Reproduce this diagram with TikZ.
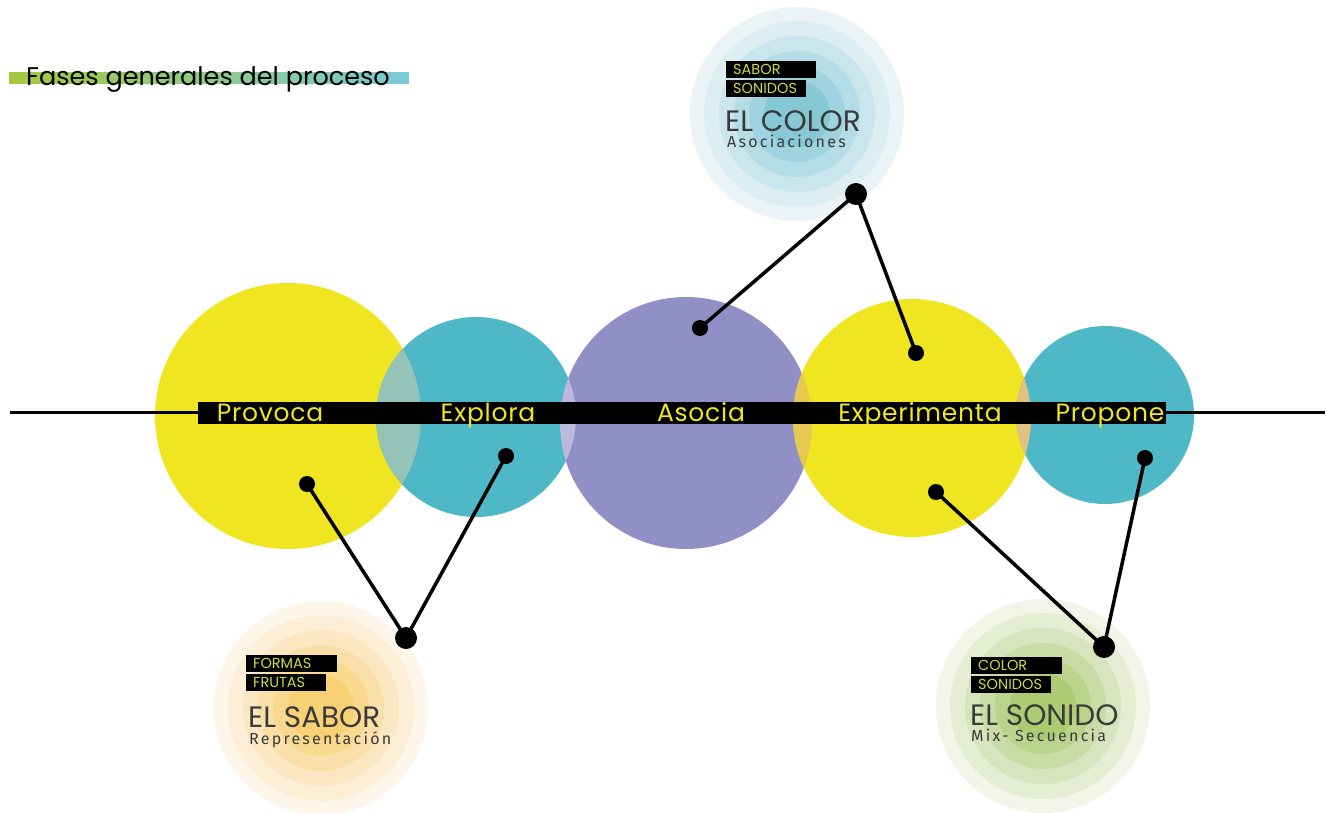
\documentclass[tikz,border=0pt]{standalone}
\usepackage{fontspec}
\setmainfont{Poppins}
\newfontfamily\phasefont[LetterSpace=3]{Poppins}
\newfontfamily\handfont[LetterSpace=14]{Fira Sans}
\definecolor{cyel}{HTML}{EFE521}
\definecolor{cteal}{HTML}{4FB8C7}
\definecolor{cpurp}{HTML}{9190C6}
\definecolor{ovA}{HTML}{95C3B7}
\definecolor{ovB}{HTML}{B8B9DB}
\definecolor{ovC}{HTML}{E6C950}
\definecolor{ovD}{HTML}{E1C283}
\definecolor{tagtext}{HTML}{CDD94A}
\definecolor{darktext}{HTML}{3A3A3C}
\definecolor{barA}{HTML}{A5C93B}
\definecolor{barB}{HTML}{8CCB9E}
\definecolor{barC}{HTML}{78CAD8}
% ring palettes, outer to inner
\definecolor{bl1}{HTML}{EAF4F7}\definecolor{bl2}{HTML}{DCEEF2}\definecolor{bl3}{HTML}{C9E6ED}
\definecolor{bl4}{HTML}{B5DDE6}\definecolor{bl5}{HTML}{9FD3DF}\definecolor{bl6}{HTML}{86C9D5}
\definecolor{or1}{HTML}{FDF6E9}\definecolor{or2}{HTML}{FCEFD6}\definecolor{or3}{HTML}{FBE8C2}
\definecolor{or4}{HTML}{FAE0A8}\definecolor{or5}{HTML}{F9D98E}\definecolor{or6}{HTML}{F8D174}
\definecolor{gr1}{HTML}{F2F5E8}\definecolor{gr2}{HTML}{E5EDD3}\definecolor{gr3}{HTML}{D7E4BD}
\definecolor{gr4}{HTML}{C9DCA5}\definecolor{gr5}{HTML}{BBD48C}\definecolor{gr6}{HTML}{ADCB72}
\tikzset{
  phase/.style={font=\phasefont\fontsize{25}{25}\selectfont, text=cyel, anchor=base, inner sep=0},
  tag/.style={fill=black, text=tagtext, font=\fontsize{14.5}{14.5}\selectfont, inner xsep=0, inner ysep=0,
    minimum height=17pt, text width=#1, align=left, anchor=north west},
  theme/.style={font=\fontsize{29.5}{29.5}\selectfont, text=darktext, anchor=base west, inner sep=0, text depth=0pt},
  hand/.style={font=\handfont\fontsize{16}{16}\selectfont, text=darktext, anchor=base west, inner sep=0, text height=10pt},
  sdot/.style={circle, fill=black, minimum size=16pt, inner sep=0},
  bdot/.style={circle, fill=black, minimum size=22pt, inner sep=0},
  link/.style={line width=3.5pt, black},
}
\begin{document}
\begin{tikzpicture}[x=1pt,y=-1pt]
\useasboundingbox (0,0) rectangle (1327,813);
\fill[white] (0,0) rectangle (1327,813);

% title with gradient underline
\shade[left color=barA, middle color=barB, right color=barC] (9,73) rectangle (409,84);
\node[font=\fontsize{25.5}{25.5}\selectfont, anchor=base west, inner sep=0] (title) at (26,86) {Fases generales del proceso};

% theme rings
\foreach \cx/\cy/\p in {797/114/bl, 321/708/or, 1043/706/gr}{
  \foreach \r [count=\i] in {107,93,78,63,48,33}{
    \fill[\p\i] (\cx,\cy) circle[radius=\r pt];
  }
}

% phase circles
\fill[cyel]  (288,416) circle[radius=133pt];
\fill[cteal] (476,417) circle[radius=100pt];
\fill[cpurp] (686,423) circle[radius=126pt];
\fill[cyel]  (912,418) circle[radius=119pt];
\fill[cteal] (1105,415) circle[radius=89pt];
% overlaps
\begin{scope}\clip (288,416) circle[radius=133pt]; \fill[ovA] (476,417) circle[radius=100pt];\end{scope}
\begin{scope}\clip (476,417) circle[radius=100pt]; \fill[ovB] (686,423) circle[radius=126pt];\end{scope}
\begin{scope}\clip (686,423) circle[radius=126pt]; \fill[ovC] (912,418) circle[radius=119pt];\end{scope}
\begin{scope}\clip (912,418) circle[radius=119pt]; \fill[ovD] (1105,415) circle[radius=89pt];\end{scope}

% axis and band
\node[fill=black, minimum width=968pt, minimum height=22pt, inner sep=0] (band) at (682,413) {};
\coordinate (axL) at (10,412);
\coordinate (axR) at (1325,412);
\draw[line width=3pt] (axL) -- (band.west|-axL);
\draw[line width=3pt] (band.east|-axR) -- (axR);
\node[phase] (provoca) at (270,421) {Provoca};
\node[phase] (explora) at (488,421) {Explora};
\node[phase] (asocia) at (701,421) {Asocia};
\node[phase] (experimenta) at (920,421) {Experimenta};
\node[phase] (propone) at (1110,421) {Propone};

% theme labels
\node[tag=90pt] (t1) at (726,61) {\hspace*{7pt}SABOR};
\node[tag=80pt] (t2) at (726,80) {\hspace*{7pt}SONIDOS};
\node[theme] (color) at (725,132) {EL COLOR};
\node[hand] (asoc) at (727,148) {Asociaciones};

\node[tag=91pt] (t3) at (246,655) {\hspace*{7pt}FORMAS};
\node[tag=80pt] (t4) at (246,674) {\hspace*{7pt}FRUTAS};
\node[theme] (sabor) at (248,727) {EL SABOR};
\node[hand] (repr) at (249,744) {Representación};

\node[tag=91pt] (t5) at (971,657) {\hspace*{7pt}COLOR};
\node[tag=80pt] (t6) at (971,676) {\hspace*{7pt}SONIDOS};
\node[theme] (sonido) at (970,725) {EL SONIDO};
\node[hand] (mix) at (971,741) {Mix- Secuencia};

% connectors
\node[sdot] (a1) at (700,328) {};
\node[bdot] (a2) at (856,194) {};
\node[sdot] (a3) at (916,353) {};
\node[sdot] (b1) at (307,484) {};
\node[bdot] (b2) at (406,638) {};
\node[sdot] (b3) at (506,456) {};
\node[sdot] (c1) at (936,492) {};
\node[bdot] (c2) at (1104,647) {};
\node[sdot] (c3) at (1145,458) {};
\draw[link] (a1.center) -- (a2.center) -- (a3.center);
\draw[link] (b1.center) -- (b2.center) -- (b3.center);
\draw[link] (c1.center) -- (c2.center) -- (c3.center);
\end{tikzpicture}
\end{document}
